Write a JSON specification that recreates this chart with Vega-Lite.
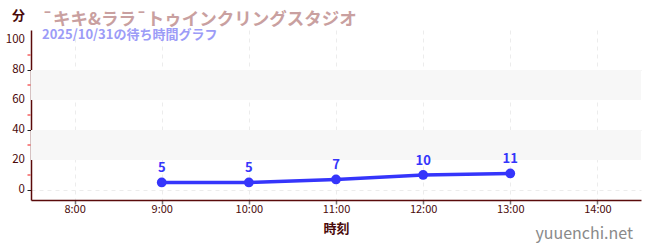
{
  "$schema": "https://vega.github.io/schema/vega-lite/v6.json",
  "width": 610,
  "height": 170,
  "autosize": {"type": "none"},
  "padding": {"left": 31, "top": 30, "right": 9, "bottom": 50},
  "background": "white",
  "config": {
    "font": "Noto Sans CJK JP",
    "view": {"stroke": null}
  },
  "title": {
    "text": "¯キキ&ララ¯トゥインクリングスタジオ",
    "subtitle": "2025/10/31の待ち時間グラフ",
    "anchor": "start",
    "frame": "group",
    "dx": 11,
    "offset": -33,
    "fontSize": 17.5,
    "fontWeight": "bold",
    "color": "#c9a0a0",
    "subtitleFontSize": 13,
    "subtitleFontWeight": "bold",
    "subtitleColor": "#9c9cf7",
    "subtitlePadding": 1,
    "font": "Noto Sans CJK JP",
    "subtitleFont": "Noto Sans CJK JP"
  },
  "datasets": {
    "waits": [
      {"hour": 9, "time": "9:00", "wait": 5},
      {"hour": 10, "time": "10:00", "wait": 5},
      {"hour": 11, "time": "11:00", "wait": 7},
      {"hour": 12, "time": "12:00", "wait": 10},
      {"hour": 13, "time": "13:00", "wait": 11}
    ],
    "bands": [
      {"hour": 7.5, "hour2": 14.5, "lo": 20, "hi": 40},
      {"hour": 7.5, "hour2": 14.5, "lo": 60, "hi": 80}
    ],
    "minor": [
      {"hour": 7.5, "v": 10},
      {"hour": 7.5, "v": 30},
      {"hour": 7.5, "v": 50},
      {"hour": 7.5, "v": 70},
      {"hour": 7.5, "v": 90}
    ],
    "major": [
      {"hour": 7.5, "v": 0, "t": "0"},
      {"hour": 7.5, "v": 20, "t": "20"},
      {"hour": 7.5, "v": 40, "t": "40"},
      {"hour": 7.5, "v": 60, "t": "60"},
      {"hour": 7.5, "v": 80, "t": "80"},
      {"hour": 7.5, "v": 100, "t": "100"}
    ],
    "mark": [
      {"label": "yuuenchi.net"}
    ]
  },
  "layer": [
    {
      "data": {"name": "bands"},
      "mark": {"type": "rect", "color": "#f7f7f7"},
      "encoding": {
        "x": {
          "field": "hour",
          "type": "quantitative",
          "scale": {"domain": [7.5, 14.5], "nice": false, "zero": false},
          "axis": {
            "values": [8, 9, 10, 11, 12, 13, 14],
            "labelExpr": "datum.value + ':00'",
            "title": "時刻",
            "titleFontSize": 13,
            "titleFontWeight": "bold",
            "titleColor": "#4a0a0a",
            "titlePadding": 8,
            "labelFontSize": 11,
            "labelColor": "#4a0a0a",
            "labelPadding": -1,
            "labelOverlap": false,
            "domainColor": "#5a0a0a",
            "domainWidth": 1.5,
            "tickColor": "#777777",
            "tickSize": 4,
            "tickWidth": 1.5,
            "grid": true,
            "gridColor": "#ececec",
            "gridDash": [4, 4]
          }
        },
        "x2": {"field": "hour2"},
        "y": {
          "field": "lo",
          "type": "quantitative",
          "scale": {"domain": [-6.67, 106.67], "nice": false, "zero": false},
          "axis": {
            "values": [0, 20, 40, 60, 80, 100],
            "labels": false,
            "title": "分",
            "titleAngle": 0,
            "titleX": -13,
            "titleY": -8,
            "titleAlign": "center",
            "titleFontSize": 13,
            "titleFontWeight": "bold",
            "titleColor": "#4a0a0a",
            "domainColor": "#5a0a0a",
            "domainWidth": 1.5,
            "tickColor": "#222222",
            "tickSize": 4,
            "tickWidth": 1,
            "grid": true,
            "gridColor": "#ececec",
            "gridDash": [4, 4]
          }
        },
        "y2": {"field": "hi"}
      }
    },
    {
      "data": {"name": "minor"},
      "mark": {"type": "tick", "orient": "horizontal", "color": "#ee1111", "size": 3, "thickness": 1, "xOffset": -2, "opacity": 1},
      "encoding": {
        "x": {"field": "hour", "type": "quantitative"},
        "y": {"field": "v", "type": "quantitative"}
      }
    },
    {
      "data": {"name": "major"},
      "mark": {"type": "text", "color": "#4a0a0a", "fontSize": 11.5, "align": "right", "baseline": "middle", "dx": -6, "font": "Noto Sans CJK JP"},
      "encoding": {
        "x": {"field": "hour", "type": "quantitative"},
        "y": {"field": "v", "type": "quantitative"},
        "text": {"field": "t"}
      }
    },
    {
      "data": {"name": "waits"},
      "mark": {"type": "line", "color": "#3535fb", "strokeWidth": 3.5},
      "encoding": {
        "x": {"field": "hour", "type": "quantitative"},
        "y": {"field": "wait", "type": "quantitative"}
      }
    },
    {
      "data": {"name": "waits"},
      "mark": {"type": "point", "filled": true, "opacity": 1, "color": "#3535fb", "size": 95},
      "encoding": {
        "x": {"field": "hour", "type": "quantitative"},
        "y": {"field": "wait", "type": "quantitative"}
      }
    },
    {
      "data": {"name": "waits"},
      "mark": {"type": "text", "color": "#3535fb", "fontSize": 13, "fontWeight": "bold", "dy": -14, "font": "Noto Sans CJK JP"},
      "encoding": {
        "x": {"field": "hour", "type": "quantitative"},
        "y": {"field": "wait", "type": "quantitative"},
        "text": {"field": "wait"}
      }
    },
    {
      "data": {"name": "mark"},
      "mark": {"type": "text", "color": "#8a8a8a", "fontSize": 16, "align": "right", "baseline": "middle", "dx": -8, "dy": 34, "font": "Noto Sans CJK JP"},
      "encoding": {
        "x": {"datum": 14.5, "type": "quantitative"},
        "y": {"datum": -6.67, "type": "quantitative"},
        "text": {"field": "label"}
      }
    }
  ]
}
